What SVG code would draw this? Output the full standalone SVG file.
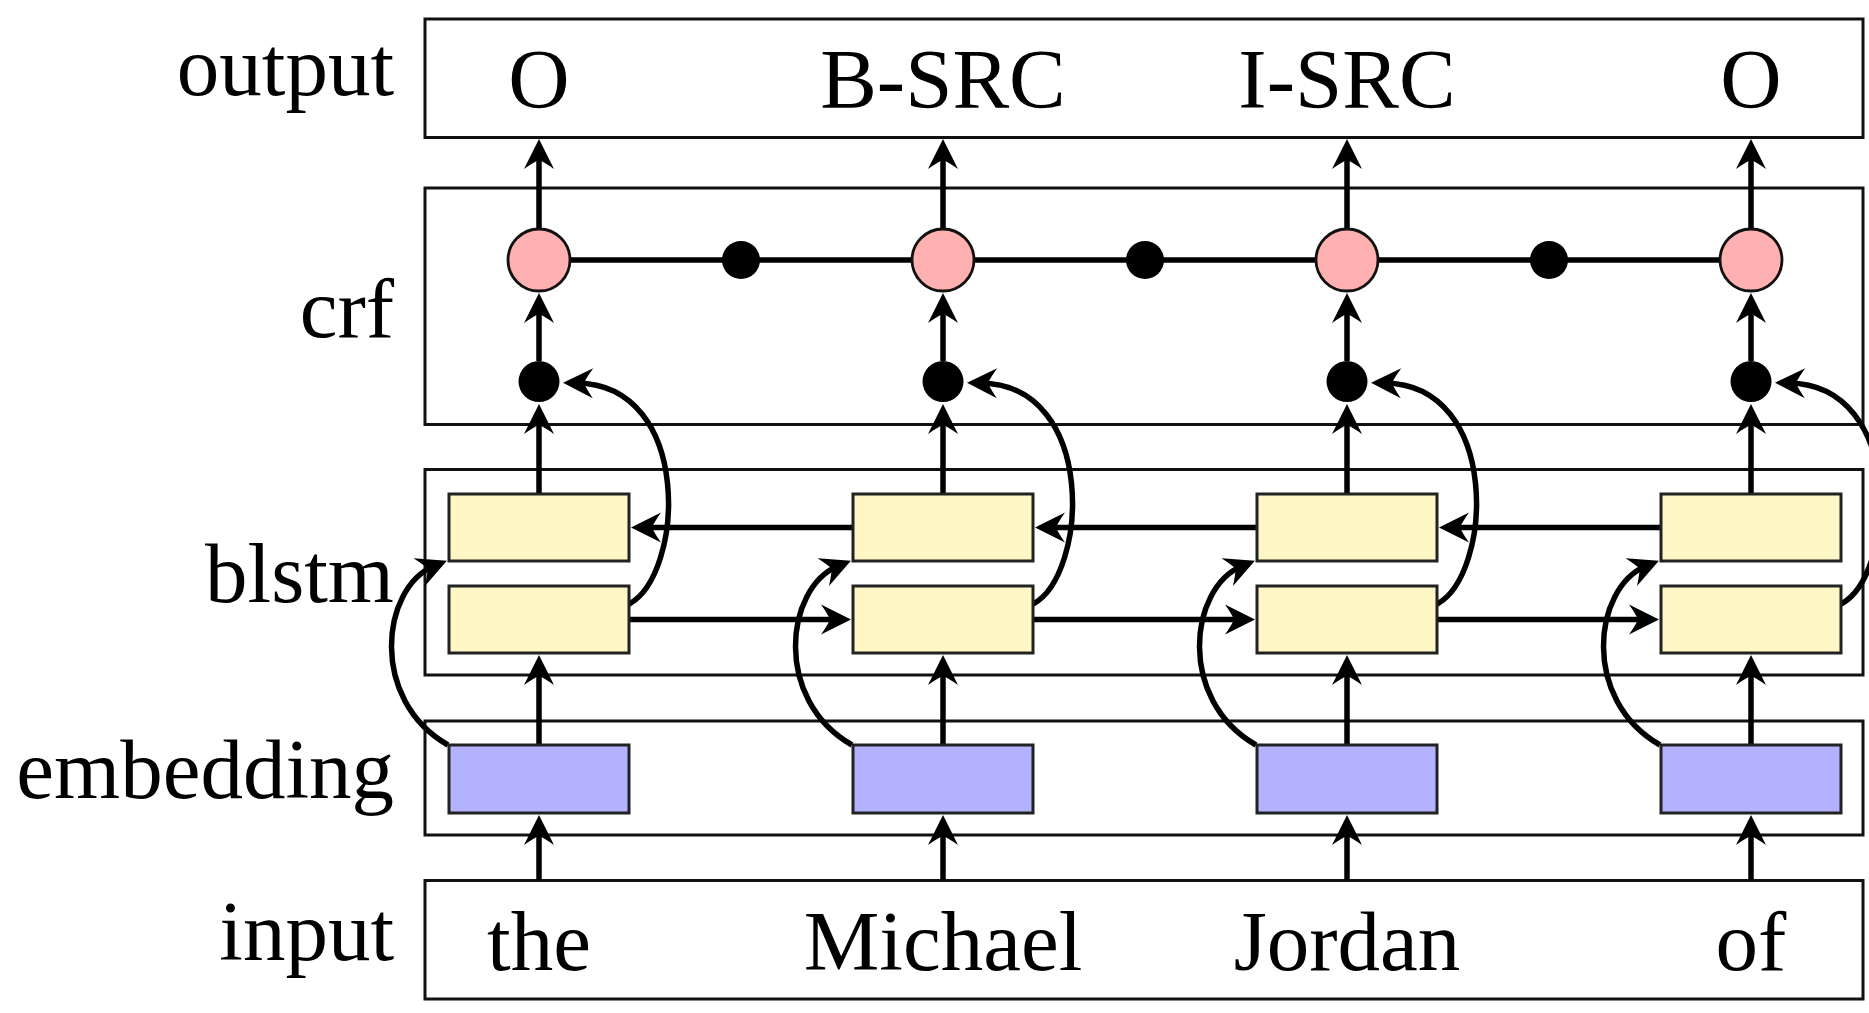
<svg xmlns="http://www.w3.org/2000/svg" width="1869" height="1013" viewBox="0 0 1869 1013">
<style>
.frame{fill:#fff;stroke:#111;stroke-width:3}
.yel{fill:#FFF7C6;stroke:#222;stroke-width:3}
.blu{fill:#B2B2FF;stroke:#222;stroke-width:3}
.pink{fill:#FFB0B0;stroke:#111;stroke-width:2.8}
.dot{fill:#000}
.ln{fill:none;stroke:#000;stroke-width:5.5}
.arr{fill:none;stroke:#000;stroke-width:5.5;marker-end:url(#ah)}
.lbl{font-family:"Liberation Serif","Times New Roman",serif;font-size:85px;fill:#000}
</style>
<defs>
<marker id="ah" markerUnits="userSpaceOnUse" viewBox="-32 -17 34 34" markerWidth="34" markerHeight="34" refX="-14" refY="0" orient="auto">
<path d="M0,0 L-30,-15 Q-23,-5 -21,0 Q-23,5 -30,15 Z" fill="#000"/>
</marker>
</defs>
<rect width="1869" height="1013" fill="#fff"/>

<g id="layer-output">
<rect class="frame" x="425" y="19" width="1438" height="118.5"/>
<text class="lbl" x="394" y="95" text-anchor="end">output</text>
</g>
<g id="layer-crf">
<rect class="frame" x="425" y="188" width="1438" height="236.5"/>
<text class="lbl" x="394" y="337" text-anchor="end">crf</text>
</g>
<g id="layer-blstm">
<rect class="frame" x="425" y="469.5" width="1438" height="205.5"/>
<text class="lbl" x="394" y="602" text-anchor="end">blstm</text>
</g>
<g id="layer-embedding">
<rect class="frame" x="425" y="721" width="1438" height="114"/>
<text class="lbl" x="394" y="798" text-anchor="end">embedding</text>
</g>
<g id="layer-input">
<rect class="frame" x="425" y="880.5" width="1438" height="118.5"/>
<text class="lbl" x="394" y="960" text-anchor="end">input</text>
</g>

<g id="connectors">
<!-- crf chain -->
<line class="ln" x1="539" y1="260" x2="1751" y2="260"/>
<!-- vertical arrows col1 -->
<path class="arr" d="M539,880 V829"/>
<path class="arr" d="M539,745 V669"/>
<path class="arr" d="M539,494 V418"/>
<path class="arr" d="M539,361 V307"/>
<path class="arr" d="M539,229 V153"/>
<!-- col2 -->
<path class="arr" d="M943,880 V829"/>
<path class="arr" d="M943,745 V669"/>
<path class="arr" d="M943,494 V418"/>
<path class="arr" d="M943,361 V307"/>
<path class="arr" d="M943,229 V153"/>
<!-- col3 -->
<path class="arr" d="M1347,880 V829"/>
<path class="arr" d="M1347,745 V669"/>
<path class="arr" d="M1347,494 V418"/>
<path class="arr" d="M1347,361 V307"/>
<path class="arr" d="M1347,229 V153"/>
<!-- col4 -->
<path class="arr" d="M1751,880 V829"/>
<path class="arr" d="M1751,745 V669"/>
<path class="arr" d="M1751,494 V418"/>
<path class="arr" d="M1751,361 V307"/>
<path class="arr" d="M1751,229 V153"/>
<!-- backward (top row) -->
<path class="arr" d="M853,527.5 H645"/>
<path class="arr" d="M1257,527.5 H1049"/>
<path class="arr" d="M1661,527.5 H1453"/>
<!-- forward (bottom row) -->
<path class="arr" d="M629,619.5 H837"/>
<path class="arr" d="M1033,619.5 H1241"/>
<path class="arr" d="M1437,619.5 H1645"/>
<!-- right curves: lower lstm to dot -->
<path class="arr" d="M629,604 C684,575 694,385 577,383"/>
<path class="arr" d="M1033,604 C1088,575 1098,385 981,383"/>
<path class="arr" d="M1437,604 C1492,575 1502,385 1385,383"/>
<path class="arr" d="M1841,604 C1896,575 1906,385 1789,383"/>
<!-- left curves: embedding to upper lstm -->
<path class="arr" d="M448,745 C369,700 381,588 434,566"/>
<path class="arr" d="M852,745 C773,700 785,588 838,566"/>
<path class="arr" d="M1256,745 C1177,700 1189,588 1242,566"/>
<path class="arr" d="M1660,745 C1581,700 1593,588 1646,566"/>
</g>

<g id="col1">
<rect class="blu" x="449" y="745" width="180" height="68"/>
<rect class="yel" x="449" y="586" width="180" height="67"/>
<rect class="yel" x="449" y="494" width="180" height="67"/>
<circle class="dot" cx="539" cy="381.5" r="20.5"/>
<circle class="pink" cx="539" cy="260" r="31"/>
<text class="lbl" x="539" y="108" text-anchor="middle">O</text>
<text class="lbl" x="539" y="970" text-anchor="middle">the</text>
</g>
<g id="col2">
<rect class="blu" x="853" y="745" width="180" height="68"/>
<rect class="yel" x="853" y="586" width="180" height="67"/>
<rect class="yel" x="853" y="494" width="180" height="67"/>
<circle class="dot" cx="943" cy="381.5" r="20.5"/>
<circle class="pink" cx="943" cy="260" r="31"/>
<text class="lbl" x="943" y="108" text-anchor="middle">B-SRC</text>
<text class="lbl" x="943" y="970" text-anchor="middle">Michael</text>
</g>
<g id="col3">
<rect class="blu" x="1257" y="745" width="180" height="68"/>
<rect class="yel" x="1257" y="586" width="180" height="67"/>
<rect class="yel" x="1257" y="494" width="180" height="67"/>
<circle class="dot" cx="1347" cy="381.5" r="20.5"/>
<circle class="pink" cx="1347" cy="260" r="31"/>
<text class="lbl" x="1347" y="108" text-anchor="middle">I-SRC</text>
<text class="lbl" x="1347" y="970" text-anchor="middle">Jordan</text>
</g>
<g id="col4">
<rect class="blu" x="1661" y="745" width="180" height="68"/>
<rect class="yel" x="1661" y="586" width="180" height="67"/>
<rect class="yel" x="1661" y="494" width="180" height="67"/>
<circle class="dot" cx="1751" cy="381.5" r="20.5"/>
<circle class="pink" cx="1751" cy="260" r="31"/>
<text class="lbl" x="1751" y="108" text-anchor="middle">O</text>
<text class="lbl" x="1751" y="970" text-anchor="middle">of</text>
</g>
<g id="transition-dots">
<circle class="dot" cx="741" cy="260" r="19"/>
<circle class="dot" cx="1145" cy="260" r="19"/>
<circle class="dot" cx="1549" cy="260" r="19"/>
</g>
</svg>
